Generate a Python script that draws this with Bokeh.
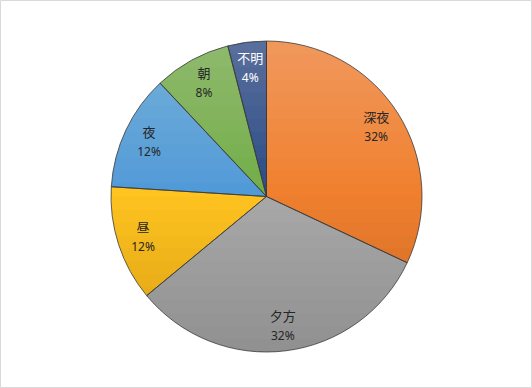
import numpy as np
from bokeh.plotting import figure
from bokeh.models import ColumnDataSource, Range1d
from bokeh.core.properties import value
from bokeh.embed import file_html
from bokeh.resources import INLINE

categories = ["深夜", "夕方", "昼", "夜", "朝", "不明"]
shares = [32, 32, 12, 12, 8, 4]
colors = ["#F0802F", "#A9A9A9", "#FFC420", "#519AD8", "#71AE47", "#2C4A86"]
text_colors = ["#262626", "#262626", "#262626", "#262626", "#262626", "#FFFFFF"]

W, H = 532, 388
R = 155.5
cx_px, cy_px = 266, 196

p = figure(width=W, height=H, output_backend="svg", toolbar_location=None,
           x_range=Range1d(-cx_px / R, (W - cx_px) / R),
           y_range=Range1d(-(H - cy_px) / R, cy_px / R),
           min_border=0)
p.axis.visible = False
p.grid.visible = False
p.outline_line_color = "#D9D9D9"
p.outline_line_width = 1
p.background_fill_color = "white"

vals = np.array(shares, dtype=float)
frac = vals / vals.sum()
cum = np.concatenate([[0], np.cumsum(frac)])
start = np.pi / 2 - 2 * np.pi * cum[:-1]
end = np.pi / 2 - 2 * np.pi * cum[1:]
mid = (start + end) / 2
lr = 0.835

src = ColumnDataSource(dict(
    start=start, end=end, color=colors, tcolor=text_colors,
    cat=categories, pct=[f"{v}%" for v in shares],
    lx=lr * np.cos(mid), ly=lr * np.sin(mid),
))

p.wedge(x=0, y=0, radius=1, start_angle="start", end_angle="end",
        direction="clock", fill_color="color", line_color="color",
        line_width=0, source=src)

# soft vertical shading (light top, darker bottom) layered over the pie
N = 24
for k in range(1, N):
    yk = 1 - 2 * k / N
    a = np.arcsin(np.clip(yk, -1, 1))
    if yk > 0:
        th = np.linspace(a, np.pi - a, 80)
        p.patch(np.cos(th), np.sin(th), fill_color="white", fill_alpha=0.022, line_alpha=0)
    else:
        th = np.linspace(np.pi - a, 2 * np.pi + a, 80)
        p.patch(np.cos(th), np.sin(th), fill_color="black", fill_alpha=0.012, line_alpha=0)

p.wedge(x=0, y=0, radius=1, start_angle="start", end_angle="end",
        direction="clock", fill_alpha=0, line_color="#3A3A3A",
        line_width=0.8, source=src)

p.text(x="lx", y="ly", text="cat", source=src, text_color="tcolor",
       text_font=value("Noto Sans CJK JP"), text_font_size="13px",
       text_align="center", text_baseline="middle", y_offset=-10)
p.text(x="lx", y="ly", text="pct", source=src, text_color="tcolor",
       text_font=value("Noto Sans"), text_font_size="12px",
       text_align="center", text_baseline="middle", y_offset=10)

open("out.html", "w").write(file_html(p, INLINE))
